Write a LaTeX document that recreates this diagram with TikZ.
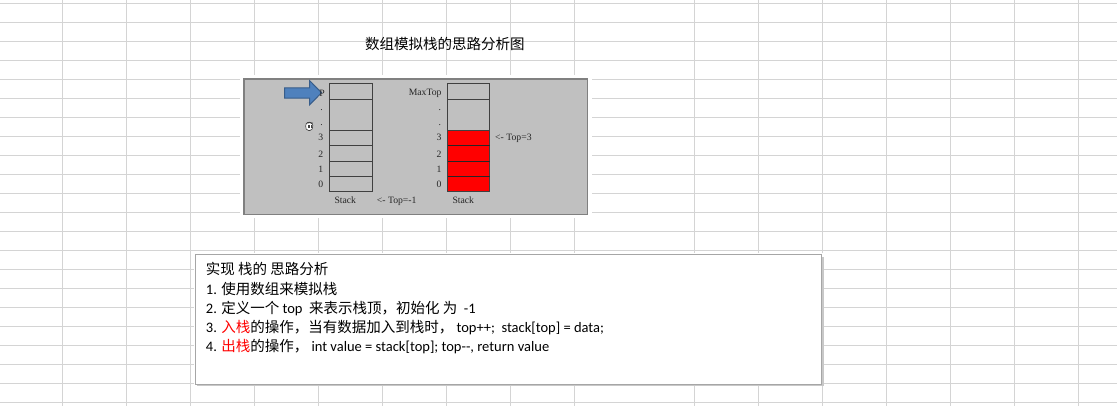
\documentclass[tikz,border=0pt]{standalone}
\usepackage{fontspec}
\setmainfont{Carlito}
\newfontfamily\cjk{Noto Sans CJK SC}
\newfontfamily\tnr{Liberation Serif}
\definecolor{gridc}{HTML}{D4D4D4}
\definecolor{boxgray}{HTML}{C0C0C0}
\definecolor{boxedge}{HTML}{808080}
\definecolor{celledge}{HTML}{404040}
\definecolor{arrowblue}{HTML}{4F81BD}
\definecolor{arrowedge}{HTML}{385D8A}
\definecolor{textedge}{HTML}{A6A6A6}
\definecolor{shadowc}{HTML}{C8C8C8}
\begin{document}
\begin{tikzpicture}[x=1pt,y=-1pt,
  gridline/.style={draw=gridc,line width=1pt},
  cell/.style={draw=celledge,line width=1pt,inner sep=0,outer sep=0,minimum width=#1},
  lbl/.style={font=\tnr\fontsize{9.7}{10}\selectfont,text=black!85,inner sep=0,text height=6.5pt,text depth=0pt},
  body/.style={font=\fontsize{14.5}{17}\selectfont,anchor=base west,inner sep=0}
]
\useasboundingbox (0,0) rectangle (1117,406);
\fill[white] (0,0) rectangle (1117,406);
% spreadsheet grid
\foreach \x in {62.5,126.5,190.5,254.5,318.5,382.5,446.5,510.5,574.5,694.5,758.5,822.5,886.5,950.5,1014.5,1078.5}
  \draw[gridline] (\x,0) -- (\x,406);
\foreach \k [evaluate=\k as \y using 3.5+19*\k] in {0,...,21}
  \draw[gridline] (0,\y) -- (1117,\y);

% title
\node[font=\cjk\fontsize{14.5}{16}\selectfont,anchor=west,inner sep=0] (title) at (365,43.5) {数组模拟栈的思路分析图};

% picture panel
\fill[white] (240,75) rectangle (591.5,218);
\draw[fill=boxgray,draw=boxedge,line width=1.4pt] (244,79) rectangle (587.7,214.3);

% red fill of the four used cells
\fill[red] (447.5,130.5) rectangle (489.5,191.5);

% stacks
\foreach \n/\t/\b [evaluate=\t as \c using (\t+\b)/2, evaluate=\t as \h using \b-\t] in
  {a/83.5/99.5, b/99.5/130.5, c/130.5/145.5, d/145.5/161.5, e/161.5/176.5, f/176.5/191.5}
{
  \node[cell=43pt,minimum height=\h pt] (L\n) at (351,\c) {};
  \node[cell=42pt,minimum height=\h pt] (R\n) at (468.5,\c) {};
}
% separators of the filled cells, kept dark on top of the red fill
\foreach \n in {c,d,e}
  \draw[black!85,line width=1.2pt] (R\n.south west) -- (R\n.south east);

% block arrow pointing at P
\draw[fill=arrowblue,draw=arrowedge,line width=1pt,line join=miter]
  (284.5,87.8) -- (309.5,87.8) -- (309.5,80.5) -- (321.5,92.7) -- (309.5,105) -- (309.5,98.2) -- (284.5,98.2) -- cycle;

% left labels
\node[lbl,anchor=east] (lP) at (325,93.3) {P};
\node[lbl,anchor=east] (ld1) at (323,106.8) {.};
\node[lbl,anchor=east] (ld2) at (323,122.4) {.};
\node[lbl,anchor=east] (l3) at (323.5,137.7) {3};
\node[lbl,anchor=east] (l2) at (323.5,154) {2};
\node[lbl,anchor=east] (l1) at (323.5,169.3) {1};
\node[lbl,anchor=east] (l0) at (323.5,184.7) {0};
% right labels
\node[lbl,anchor=east] (rmax) at (441.7,92.5) {MaxTop};
\node[lbl,anchor=east] (rd1) at (441.3,106.8) {.};
\node[lbl,anchor=east] (rd2) at (441.3,122.4) {.};
\node[lbl,anchor=east] (r3) at (441.7,137.7) {3};
\node[lbl,anchor=east] (r2) at (441.7,154) {2};
\node[lbl,anchor=east] (r1) at (441.7,169.3) {1};
\node[lbl,anchor=east] (r0) at (441.7,184.7) {0};
\node[lbl,anchor=west] (top3) at (495,137.7) {<- Top=3};
\node[lbl] (lstack) at (345.3,200) {Stack};
\node[lbl,anchor=west] (topm1) at (376.7,200) {<- Top=-1};
\node[lbl] (rstack) at (463.3,200) {Stack};

% small hand cursor
\draw[fill=white,draw=black!75,line width=0.6pt,rounded corners=1.5pt]
  (305.8,124.5) -- (307,122) -- (308.6,123.6) -- (309.6,121.6) -- (311,123.6) -- (312.6,122.8) -- (312.8,127.5) -- (311.5,130.5) -- (307,130.5) -- (305.5,127.5) -- cycle;
\draw[black!75,line width=0.5pt] (307.8,125.5) -- (307.8,128.5) (309.3,125.5) -- (309.3,128.5) (310.8,125.5) -- (310.8,128.5);

% text panel
\fill[white] (193.5,253.5) rectangle (823.5,385.5);
\draw[shadowc,line width=1.2pt] (197,385.2) -- (823,385.2) -- (823,257);
\draw[textedge,line width=1pt,fill=white] (195,255) rectangle (821.8,384);

\node[body] (t1) at (205.7,275) {\cjk 实现 栈的 思路分析};
\node[body] (t2) at (205.7,294.2) {1. {\cjk 使用数组来模拟栈}};
\node[body] (t3) at (205.7,313.6) {2. {\cjk 定义一个} top~ {\cjk 来表示栈顶，初始化} {\cjk 为} ~-1};
\node[body] (t4) at (205.7,332.9) {3. {\color{red}\cjk 入栈}{\cjk 的操作，当有数据加入到栈时，} top++;~ stack[top] = data;};
\node[body] (t5) at (205.7,351.5) {4. {\color{red}\cjk 出栈}{\cjk 的操作，} int value = stack[top]; top-{}-, return value};
\end{tikzpicture}
\end{document}
